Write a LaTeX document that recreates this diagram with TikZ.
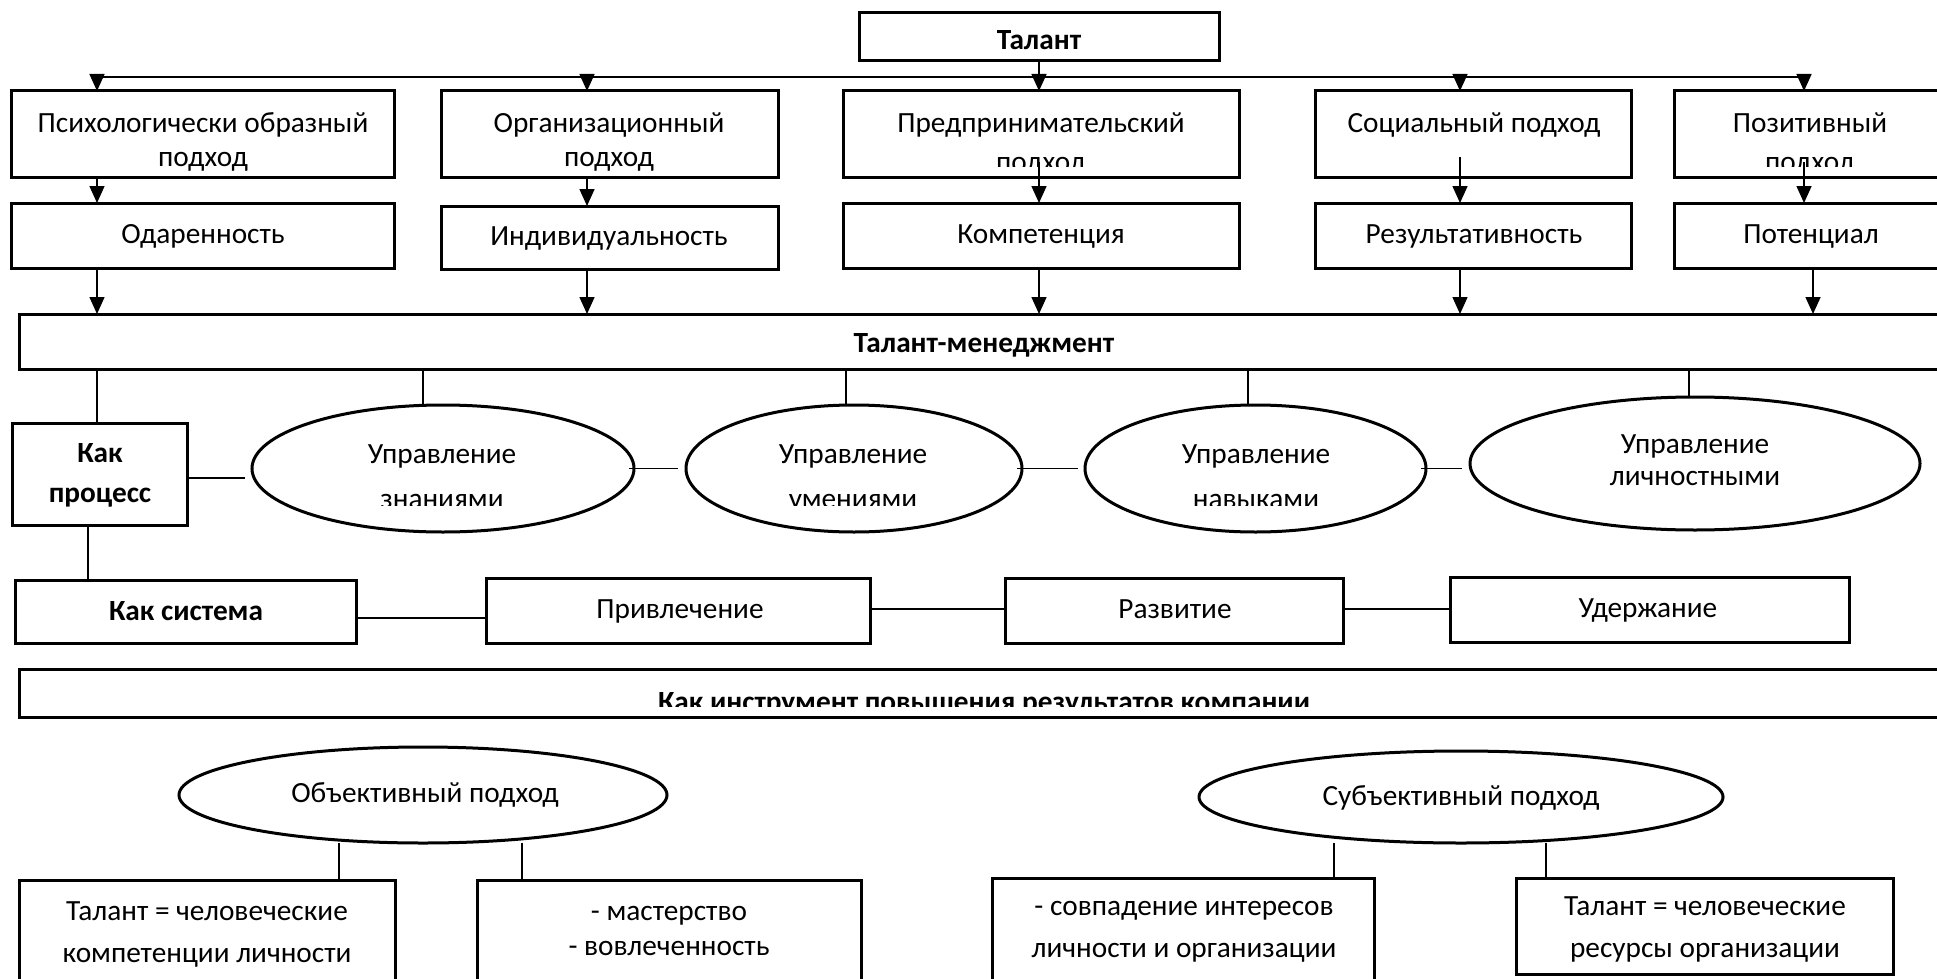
\documentclass[tikz,border=0pt]{standalone}
\usepackage{fontspec}
\setmainfont{Carlito}
\usetikzlibrary{arrows.meta,shapes.geometric}
\newcommand\mkbox[6][frame]{\node[#1, minimum width={#5-#3}, minimum height={#6-#4}] (#2) at ({(#3+#5)/2},{(#4+#6)/2}) {};}
\begin{document}
\begin{tikzpicture}[x=1pt,y=-1pt,
  frame/.style={draw, line width=3pt, rectangle, inner sep=0pt, outer sep=0pt},
  oval/.style={draw, line width=3pt, ellipse, inner sep=0pt, outer sep=0pt},
  txt/.style={anchor=base, inner sep=0pt, font=\fontsize{29.3}{34}\selectfont},
  btxt/.style={anchor=base, inner sep=0pt, font=\fontsize{29.3}{34}\selectfont\bfseries},
  link/.style={line width=1.5pt},
  arr/.style={line width=1.5pt, -{Triangle[width=15pt,length=17pt]}},
]
\useasboundingbox (0,0) rectangle (1937,979);
\clip (0,0) rectangle (1937,979);

% boxes
\mkbox{talant}{859}{13}{1219}{61}
\mkbox{p1}{11}{91}{394}{177}
\mkbox{p2}{441}{91}{778}{177}
\mkbox{p3}{843}{91}{1239}{177}
\mkbox{p4}{1315}{91}{1631}{177}
\mkbox{p5}{1674}{91}{1946}{177}
\mkbox{q1}{11}{203}{394}{268}
\mkbox{q2}{441}{206}{778}{269}
\mkbox{q3}{843}{203}{1239}{268}
\mkbox{q4}{1315}{203}{1631}{268}
\mkbox{q5}{1674}{203}{1946}{268}
\mkbox{tm}{19}{314}{1950}{369}
\mkbox{kp}{12}{423}{187}{525}
\mkbox[oval]{e1}{252}{405}{634}{532}
\mkbox[oval]{e2}{686}{405}{1022}{532}
\mkbox[oval]{e3}{1085}{405}{1426}{532}
\mkbox[oval]{e4}{1470}{397}{1920}{530}
\mkbox{ks}{15}{580}{356}{643}
\mkbox{r1}{486}{578}{870}{643}
\mkbox{r2}{1005}{578}{1343}{643}
\mkbox{r3}{1450}{577}{1849}{642}
\mkbox{ki}{19}{669}{1950}{717}
\mkbox[oval]{ob}{179}{747}{667}{843}
\mkbox[oval]{sb}{1199}{751}{1723}{843}
\mkbox{ba}{19}{880}{395}{1000}
\mkbox{bb}{477}{880}{861}{1000}
\mkbox{bc}{992}{878}{1374}{1000}
\mkbox{bd}{1516}{878}{1893}{974}

% texts
\node[btxt] (talant-t) at (1039,50) {Талант};
\node[txt] (p1-a) at (203,132) {Психологически образный};
\node[txt] (p1-b) at (203,166) {подход};
\node[txt] (p2-a) at (609,132) {Организационный};
\node[txt] (p2-b) at (609,166) {подход};
\node[txt] (p3-a) at (1041,132) {Предпринимательский};
\begin{scope}
  \clip (843,91) rectangle (1239,166);
  \node[txt] (p3-b) at (1041,171) {подход};
\end{scope}
\node[txt] (p4-a) at (1474,132) {Социальный подход};
\node[txt] (p5-a) at (1810,132) {Позитивный};
\begin{scope}
  \clip (1674,91) rectangle (1937,166);
  \node[txt] (p5-b) at (1810,171) {подход};
\end{scope}
\node[txt] (q1-t) at (203,243) {Одаренность};
\node[txt] (q2-t) at (609,245) {Индивидуальность};
\node[txt] (q3-t) at (1041,243) {Компетенция};
\node[txt] (q4-t) at (1474,243) {Результативность};
\node[txt] (q5-t) at (1811,243) {Потенциал};
\node[btxt] (tm-t) at (984,352) {Талант-менеджмент};
\node[btxt] (kp-a) at (100,462) {Как};
\node[btxt] (kp-b) at (100,502) {процесс};
\node[txt] (e1-a) at (442,463) {Управление};
\node[txt] (e2-a) at (853,463) {Управление};
\node[txt] (e3-a) at (1256,463) {Управление};
\begin{scope}
  \clip (0,400) rectangle (1937,505);
  \node[txt] (e1-b) at (442,508) {знаниями};
  \node[txt] (e2-b) at (853,508) {умениями};
  \node[txt] (e3-b) at (1256,508) {навыками};
\end{scope}
\node[txt] (e4-a) at (1695,453) {Управление};
\node[txt] (e4-b) at (1695,485) {личностными};
\node[btxt] (ks-t) at (186,620) {Как система};
\node[txt] (r1-t) at (680,618) {Привлечение};
\node[txt] (r2-t) at (1175,618) {Развитие};
\node[txt] (r3-t) at (1648,617) {Удержание};
\begin{scope}
  \clip (19,669) rectangle (1937,706);
  \node[btxt] (ki-t) at (984,711) {Как инструмент повышения результатов компании};
\end{scope}
\node[txt] (ob-t) at (425,802) {Объективный подход};
\node[txt] (sb-t) at (1461,805) {Субъективный подход};
\node[txt] (ba-a) at (207,920) {Талант = человеческие};
\node[txt] (ba-b) at (207,962) {компетенции личности};
\node[txt] (bb-a) at (669,920) {- мастерство};
\node[txt] (bb-b) at (669,955) {- вовлеченность};
\node[txt] (bc-a) at (1184,915) {- совпадение интересов};
\node[txt] (bc-b) at (1184,957) {личности и организации};
\node[txt] (bd-a) at (1705,915) {Талант = человеческие};
\node[txt] (bd-b) at (1705,957) {ресурсы организации};

% bus and arrows
\coordinate (x1) at (97,77);
\coordinate (x2) at (587,77);
\coordinate (x4) at (1460,77);
\coordinate (x5) at (1804,77);
\coordinate (x5b) at (1813,0);
\draw[link] (x1) -- (x5);
\draw[arr] (talant.south -| talant-t) -- (talant-t |- p3.north);
\draw[arr] (x1) -- (x1 |- p1.north);
\draw[arr] (x2) -- (x2 |- p2.north);
\draw[arr] (x4) -- (x4 |- p4.north);
\draw[arr] (x5) -- (x5 |- p5.north);

\draw[arr] (x1 |- p1.south) -- (x1 |- q1.north);
\draw[arr] (x2 |- p2.south) -- (x2 |- q2.north);
\draw[arr] ([yshift=15pt]p3.south -| talant-t) -- (talant-t |- q3.north);
\draw[arr] ([yshift=20pt]p4.south -| x4) -- (x4 |- q4.north);
\draw[arr] ([yshift=15pt]p5.south -| x5) -- (x5 |- q5.north);

\draw[arr] (x1 |- q1.south) -- (x1 |- tm.north);
\draw[arr] (x2 |- q2.south) -- (x2 |- tm.north);
\draw[arr] (talant-t |- q3.south) -- (talant-t |- tm.north);
\draw[arr] (x4 |- q4.south) -- (x4 |- tm.north);
\draw[arr] (x5b |- q5.south) -- (x5b |- tm.north);

% from talent management
\coordinate (d1) at (423,0);
\coordinate (d2) at (846,0);
\coordinate (d3) at (1248,0);
\coordinate (d4) at (1689,0);
\draw[link] (x1 |- tm.south) -- (x1 |- kp.north);
\draw[link] (d1 |- tm.south) -- (d1 |- e1.north);
\draw[link] (d2 |- tm.south) -- (d2 |- e2.north);
\draw[link] (d3 |- tm.south) -- (d3 |- e3.north);
\draw[link] (d4 |- tm.south) -- (d4 |- e4.north);

\draw[link] (kp.east |- 0,478) -- ([xshift=-7pt]e1.west |- 0,478);
\draw[link] ([xshift=-5pt]e1.east) -- ([xshift=-8pt]e2.west);
\draw[link] ([xshift=-5pt]e2.east) -- ([xshift=-7pt]e3.west);
\draw[link] ([xshift=-5pt]e3.east) -- ([xshift=-8pt]e4.west |- e3.east);

\coordinate (v) at (88,0);
\draw[link] (v |- kp.south) -- (v |- ks.north);
\draw[link] (ks.east |- 0,618) -- (r1.west |- 0,618);
\draw[link] (r1.east |- 0,609) -- (r2.west |- 0,609);
\draw[link] (r2.east |- 0,609) -- (r3.west |- 0,609);

\coordinate (o1) at (339,0);
\coordinate (o2) at (522,0);
\coordinate (s1) at (1334,0);
\coordinate (s2) at (1546,0);
\draw[link] (o1 |- ob.south) -- (o1 |- ba.north);
\draw[link] (o2 |- ob.south) -- (o2 |- bb.north);
\draw[link] (s1 |- sb.south) -- (s1 |- bc.north);
\draw[link] (s2 |- sb.south) -- (s2 |- bd.north);
\end{tikzpicture}
\end{document}
